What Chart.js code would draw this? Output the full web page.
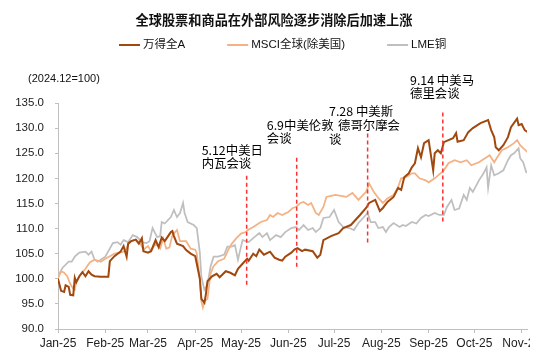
<!DOCTYPE html>
<html>
<head>
<meta charset="utf-8">
<script src="https://cdn.jsdelivr.net/npm/chart.js@4"></script>
<style>
  html, body { margin: 0; padding: 0; background: #fff; }
  #wrap { width: 550px; height: 361px; }
</style>
</head>
<body>
<div id="wrap"><canvas id="chart" width="550" height="361"></canvas></div>
<script>
// days counted from 2025-01-01, values indexed to 2024.12 = 100
const windDays = [0,2,4,5,7,8,10,11,12,14,16,18,20,22,24,28,33,34,37,41,43,45,46,48,51,53,55,56,59,61,64,66,68,70,74,75,76,78,82,84,87,90,93,94,96,97,98,101,104,106,110,113,116,118,121,124,125,128,130,132,135,139,142,145,147,149,153,155,157,160,162,167,170,172,174,179,184,187,192,195,198,202,204,208,211,213,216,220,223,225,227,230,232,234,236,238,240,243,246,247,249,251,253,256,259,261,262,266,269,272,277,282,284,286,287,289,292,295,297,301,302,304,306,308];
const windVals = [100,97.6,97.4,98.7,98.4,96.8,96.7,100.2,99.3,100.5,101.3,100.5,101.5,100.8,100.5,100.4,100.4,103.5,104.5,105.4,106.5,104.4,107,107.5,107.8,107,108.1,105.5,105.2,105.5,107.7,106.3,108.2,107.5,109.3,109.5,108.5,107,106.5,105.7,105,104.5,100,96,95.2,97,99.5,100.5,101,100.3,101.5,101.2,100.7,102,103,104,103.6,105,104.5,105.8,104.8,105.4,104.2,103.8,103.6,104.4,105.2,105.8,106.1,105.5,105.8,105.5,104.2,104.8,107.7,108.5,109.1,110.1,110.7,111.7,112.7,114.1,115.1,115.7,113.5,114.1,115.3,116.3,118.1,117.7,120.2,121,122.2,123,126,124.2,127,127.6,121.6,125,125.6,125,127.2,127.6,128,129,127.3,127.6,129.2,130,131,131.6,129.6,128.2,126.2,125.6,126.6,128.2,130.2,131.9,130.6,130.8,129.6,129.2];

const msciDays = [0,2,4,6,8,10,11,12,14,18,21,24,28,31,34,37,41,44,47,51,54,56,59,61,64,67,69,71,73,75,78,80,84,87,90,91,93,94,95,96,98,100,102,105,109,112,114,117,120,123,125,128,133,137,139,141,144,147,151,154,156,159,161,164,166,169,171,174,176,179,182,189,193,197,200,202,204,207,210,213,216,220,223,225,228,232,234,237,241,243,247,253,256,260,264,268,271,276,280,283,286,288,291,295,299,301,303,305,308];
const msciVals = [100,101.5,101.2,100.5,99,98,97.8,99.5,100.5,102,103.3,103.8,103.4,104,104.5,105,105.2,105.5,107.4,107.8,107,105.8,106.5,105.5,107,106,108,106,106.2,108.7,109.7,107.5,107.5,106,105.8,105,100,95.5,94.3,95.5,96,101,102.5,103.5,104,106,107,108.1,109,109.3,109.8,110.3,111.3,111.7,112.7,112.3,113.1,112.7,113.3,114.1,114.3,115.1,115.3,114.7,115.1,113.1,112.7,114.3,116.3,116.5,116.7,116.3,117.1,115.7,116.7,117.3,119,117.3,116.1,115.1,116,116.7,118.3,120,120.2,121,121,120,119.6,119.2,120,121.6,123,123.6,123.2,123.6,122.6,123.2,124,124.6,123.2,124.2,125.6,126.2,127,127.6,126.6,126,125.2];

const lmeDays = [0,3,7,9,11,14,18,20,22,24,26,31,36,39,41,43,46,49,52,55,58,60,62,65,67,68,70,74,76,78,80,82,83,85,89,91,93,94,96,98,100,102,105,109,111,114,116,118,121,125,128,132,134,137,139,143,146,149,153,156,158,161,164,167,169,172,174,178,181,184,187,191,194,197,200,203,205,208,210,213,215,217,220,224,226,228,232,235,238,241,243,247,250,253,255,258,260,263,266,268,270,272,276,279,281,282,284,286,289,292,295,297,299,302,303,305,307,309];
const lmeVals = [100.5,102.2,103.4,103.4,104.4,105.2,105.4,104.8,105.4,103.8,103.4,104.4,107.1,107.3,106.8,107.7,107.3,108.7,108.3,107.3,107.1,107.5,110.1,108.3,108.5,111.3,111,112.3,113.7,112.3,113.1,115.1,113.1,111.3,110.7,110.1,105.2,100.4,97.8,98.8,102.4,104.4,104.4,104.8,106.4,106.4,106.7,103.8,107.7,107.3,108.1,109.1,108.3,109.1,107.7,108.7,108.3,109.3,110.1,110.3,109.7,110.7,109.7,110.1,109.3,110.1,112.1,112.3,113.7,111.3,110.3,110.1,109.7,111.1,112.1,113.1,111.3,111.3,110.1,110.3,109.3,110.3,111.1,110.3,110.7,110.5,111.3,111,112.1,112.7,112.5,113.1,112.7,112.7,114.3,115.7,113.7,114,116.7,115.7,118.1,117.3,119.6,121,122.2,118.1,122.6,120.6,121,121.6,123.6,124.6,125,126,124,123.2,121.2,121];

const monthDays = [0,31,59,90,120,151,181,212,243,273,304];
const monthLabels = ['Jan-25','Feb-25','Mar-25','Apr-25','May-25','Jun-25','Jul-25','Aug-25','Sep-25','Oct-25','Nov-25'];

// talks markers: dashed line position/range and label text
const eventDays = [123.7, 156.5, 203, 252.3];
const eventTop = [120.7, 124.3, 129.6, 133.3];
const eventBottom = [98.8, 102.4, 107.2, 111.4];
const eventText = [['5.12中美日', '内瓦会谈'], ['6.9中美伦敦', '会谈'], ['7.28 中美斯', '德哥尔摩会', '谈'], ['9.14 中美马', '德里会谈']];
const eventTextDay = [94.2, 136.9, 177.7, 230.8];
const eventTextVal = [125.64, 130.62, 133.27, 139.58];
const eventIndent = [[0, 0], [0, 0], [0, 9, 0], [0, 0]];

const seriesNames = ['万得全A', 'MSCI全球(除美国)', 'LME铜'];
const seriesColors = ['#A0480E', '#F4B183', '#BFBFBF'];

const toXY = (days, vals) => days.map((d, i) => ({ x: d, y: vals[i] }));

const datasets = [
  { label: seriesNames[0], data: toXY(windDays, windVals), borderColor: seriesColors[0], borderWidth: 2 },
  { label: seriesNames[1], data: toXY(msciDays, msciVals), borderColor: seriesColors[1], borderWidth: 1.75 },
  { label: seriesNames[2], data: toXY(lmeDays, lmeVals), borderColor: seriesColors[2], borderWidth: 1.75 }
];
eventDays.forEach((d, i) => {
  datasets.push({
    label: 'event' + i,
    data: [{ x: d, y: eventBottom[i] }, { x: d, y: eventTop[i] }],
    borderColor: '#FF3030',
    borderWidth: 1.5,
    borderDash: [4, 3],
    order: -1
  });
});
datasets.forEach(ds => { ds.pointRadius = 0; ds.tension = 0; ds.fill = false; });

const FONT = "'Liberation Sans', 'Noto Sans CJK SC', sans-serif";

const decor = {
  id: 'decor',
  afterDraw(chart) {
    const ctx = chart.ctx;
    const xs = chart.scales.x, ys = chart.scales.y;
    ctx.save();

    // title
    ctx.fillStyle = '#111';
    ctx.font = "bold 13.2px 'Noto Sans CJK SC', sans-serif";
    ctx.textAlign = 'center';
    ctx.textBaseline = 'middle';
    ctx.fillText('全球股票和商品在外部风险逐步消除后加速上涨', 274, 20);

    // legend
    ctx.font = '11.5px ' + FONT;
    ctx.textAlign = 'left';
    let lx = 119;
    seriesNames.forEach((name, i) => {
      ctx.strokeStyle = seriesColors[i];
      ctx.lineWidth = 2;
      ctx.beginPath();
      ctx.moveTo(lx, 45);
      ctx.lineTo(lx + 21, 45);
      ctx.stroke();
      ctx.fillStyle = '#111';
      ctx.fillText(name, lx + 24, 45);
      lx += 24 + ctx.measureText(name).width + 42;
    });

    // unit note
    ctx.font = '11px ' + FONT;
    ctx.fillText('(2024.12=100)', 28, 79);

    // event labels
    ctx.font = "12.4px 'Noto Sans CJK SC', sans-serif";
    ctx.fillStyle = '#000';
    eventText.forEach((lines, i) => {
      const tx = xs.getPixelForValue(eventTextDay[i]);
      const ty = ys.getPixelForValue(eventTextVal[i]);
      lines.forEach((t, j) => ctx.fillText(t, tx + eventIndent[i][j], ty + j * 13.6));
    });

    // original picture is cut at the right edge
    ctx.fillStyle = '#fff';
    ctx.fillRect(530, 334, 20, 27);
    ctx.restore();
  }
};

new Chart(document.getElementById('chart'), {
  type: 'line',
  data: { datasets: datasets },
  options: {
    responsive: false,
    animation: false,
    devicePixelRatio: 1,
    layout: { padding: { top: 103, right: 23, left: 0, bottom: 0 } },
    plugins: { legend: { display: false }, tooltip: { enabled: false }, title: { display: false } },
    scales: {
      x: {
        type: 'linear',
        min: 0,
        max: 307.5,
        afterBuildTicks: s => { s.ticks = monthDays.map(v => ({ value: v })); },
        afterFit: s => { s.height = 32; s.paddingLeft = 0; s.paddingRight = 0; },
        ticks: {
          autoSkip: false,
          maxRotation: 0,
          padding: 3,
          color: '#222',
          font: { family: FONT, size: 12 },
          callback: (v, i) => monthLabels[i]
        },
        grid: { display: true, drawOnChartArea: false, drawTicks: true, tickLength: 4, color: '#BFBFBF' },
        border: { display: true, color: '#BFBFBF' }
      },
      y: {
        min: 90,
        max: 135,
        afterFit: s => { s.width = 58; s.paddingTop = 0; s.paddingBottom = 0; },
        ticks: {
          stepSize: 5,
          padding: 11,
          color: '#222',
          font: { family: FONT, size: 11.5 },
          callback: v => v.toFixed(1)
        },
        grid: { display: true, drawOnChartArea: false, drawTicks: true, tickLength: 3, color: '#BFBFBF' },
        border: { display: true, color: '#BFBFBF' }
      }
    }
  },
  plugins: [decor]
});
</script>
</body>
</html>
